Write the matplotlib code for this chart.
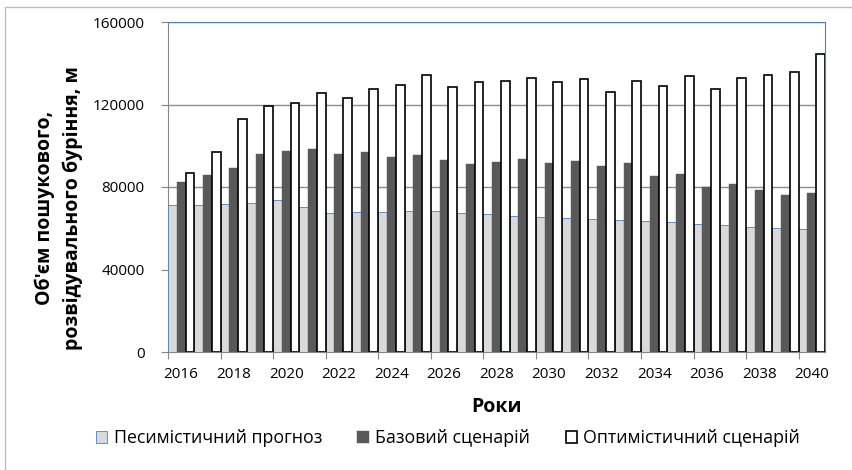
import numpy as np
import matplotlib
matplotlib.use("Agg")
import matplotlib.pyplot as plt
from matplotlib.patches import Rectangle

plt.rcParams['font.family'] = ['Open Sans', 'DejaVu Sans']

years = list(range(2016, 2041))
pessimistic = [71300, 71300, 71600, 72400, 73500, 70300, 67600, 68000, 68000,
               68500, 68500, 67200, 66700, 66100, 65600, 65100, 64500, 64000,
               63400, 62900, 62200, 61400, 60800, 60100, 59500]
base = [82600, 85800, 89400, 96200, 97500, 98300, 95800, 96800, 94400,
        95400, 93100, 91000, 92300, 93700, 91600, 92800, 90300, 91500,
        85300, 86300, 80000, 81300, 78500, 76000, 76900]
optimistic = [86600, 97100, 112800, 119400, 120900, 125400, 123300, 127700,
              129300, 134100, 128500, 130700, 131600, 133000, 131100, 132500,
              126100, 131200, 129000, 134000, 127700, 132800, 134300, 135600,
              144600]
series_names = ["Песимістичний прогноз", "Базовий сценарій",
                "Оптимістичний сценарій"]
yticks = [0, 40000, 80000, 120000, 160000]

W, H = 853, 470
fig = plt.figure(figsize=(W / 100, H / 100), dpi=100)

# outer chart border (cut off at right/bottom like the reference)
fig.patches.append(Rectangle((5 / W, -0.1), 2, (H - 7) / H + 0.1,
                             transform=fig.transFigure, fill=False,
                             ec="#BFBFBF", lw=1.0))

ax = fig.add_axes([168 / W, (H - 352) / H, (825 - 168) / W, 330 / H])

x = np.arange(len(years))
bw = 1 / 3
ax.bar(x - bw, pessimistic, bw, color="#D9D9D9", edgecolor="#4F81BD",
       lw=0.6, label=series_names[0], zorder=3)
ax.bar(x, base, bw, color="#595959", edgecolor="#595959", lw=0.3,
       label=series_names[1], zorder=3)
ax.bar(x + bw, optimistic, bw, color="white", edgecolor="black", lw=1.2,
       label=series_names[2], zorder=3)

ax.set_xlim(-0.5, len(years) - 0.5)
ax.set_ylim(0, 160000)
ax.set_yticks(yticks)
ax.set_yticklabels([str(v) for v in yticks])
ax.yaxis.grid(True, color="#8C8C8C", lw=1.0, zorder=0)
ax.set_axisbelow(True)

# ticks between groups every 2 years, labels at group centres
ax.set_xticks(np.arange(-0.5, len(years) - 0.5, 2))
ax.set_xticklabels([])
ax.set_xticks(x[::2], minor=True)
ax.set_xticklabels([str(y) for y in years[::2]], minor=True)
ax.tick_params(axis="x", which="minor", length=0, pad=11, labelsize=11)
ax.tick_params(axis="x", which="major", length=5, color="#868686")
ax.tick_params(axis="y", length=5, color="#868686", pad=12, labelsize=11)

for s in ["left", "bottom"]:
    ax.spines[s].set_color("#868686")
for s in ["top", "right"]:
    ax.spines[s].set_color("#4F81BD")

fig.text(497 / W, 1 - 407 / H, "Роки", ha="center", va="center",
         fontsize=14, fontweight="bold")
fig.text(45 / W, 1 - 208 / H, "Об'єм пошукового,", rotation=90,
         ha="center", va="center", fontsize=14, fontweight="bold")
fig.text(73 / W, 1 - 208 / H, "розвідувального буріння, м", rotation=90,
         ha="center", va="center", fontsize=14, fontweight="bold")

fig.legend(loc="center", bbox_to_anchor=(448 / W, 1 - 438 / H), ncol=3,
           frameon=False, fontsize=12.8, handlelength=0.65, handleheight=0.65,
           handletextpad=0.35, columnspacing=2.0, borderpad=0)

fig.savefig("out.png", dpi=100)
